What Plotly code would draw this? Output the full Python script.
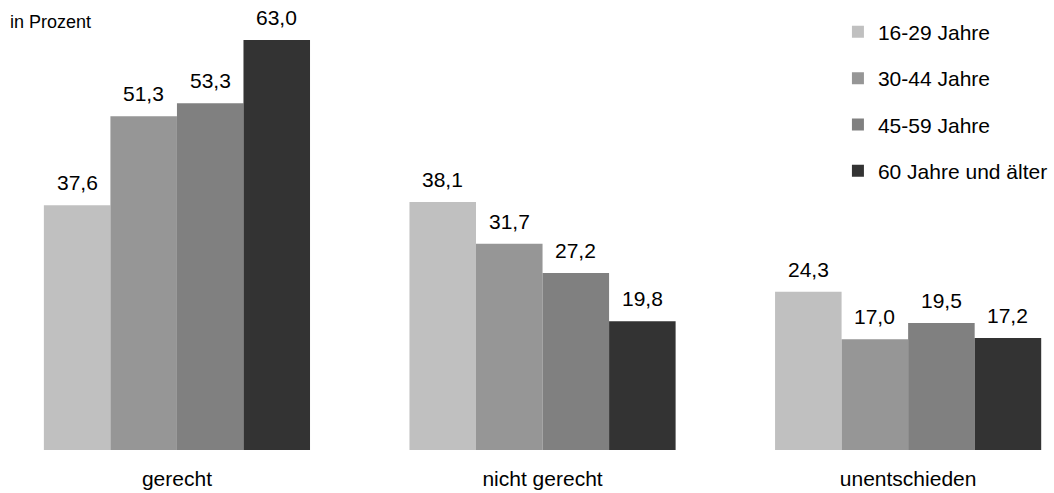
import plotly.graph_objects as go

categories = ["gerecht", "nicht gerecht", "unentschieden"]
series_names = ["16-29 Jahre", "30-44 Jahre", "45-59 Jahre", "60 Jahre und älter"]
v_16_29 = [37.6, 38.1, 24.3]
v_30_44 = [51.3, 31.7, 17.0]
v_45_59 = [53.3, 27.2, 19.5]
v_60 = [63.0, 19.8, 17.2]
colors = ["#C0C0C0", "#969696", "#808080", "#333333"]

W, H = 1054, 493
X_RANGE = [-0.484, 2.399]
BARGAP = 0.272
n_series = 4
bar_px = W / (X_RANGE[1] - X_RANGE[0]) * (1 - BARGAP) / n_series

fig = go.Figure()
annotations = []
all_vals = [v_16_29, v_30_44, v_45_59, v_60]
for i, (name, vals) in enumerate(zip(series_names, all_vals)):
    fig.add_trace(go.Bar(
        x=categories, y=vals, name=name, legendgroup=name,
        marker=dict(color=colors[i], line=dict(width=0)),
    ))
    for c, v in zip(categories, vals):
        annotations.append(dict(
            x=c, y=v, xref="x", yref="y",
            text=f"{v:.1f}".replace(".", ","),
            showarrow=False, xanchor="center", yanchor="bottom",
            xshift=(i - (n_series - 1) / 2) * bar_px, yshift=9,
            font=dict(size=21, color="#000000"),
        ))

annotations.append(dict(text="in Prozent", xref="paper", yref="paper", x=0.008, y=0.951,
                        xanchor="left", yanchor="middle", showarrow=False,
                        font=dict(size=18)))

fig.update_layout(
    width=W, height=H,
    margin=dict(l=0, r=0, t=0, b=43),
    paper_bgcolor="white", plot_bgcolor="white",
    barmode="group", bargap=BARGAP, bargroupgap=0,
    font=dict(family="Liberation Sans, Arial, sans-serif", size=21, color="#000000"),
    showlegend=True,
    legend=dict(x=0.795, y=0.974, xanchor="left", yanchor="top",
                traceorder="grouped", tracegroupgap=16,
                font=dict(size=21), bgcolor="rgba(0,0,0,0)",
                itemwidth=30),
    xaxis=dict(range=X_RANGE, showline=False, showgrid=False, ticks="",
               ticklabelstandoff=14, tickfont=dict(size=21)),
    yaxis=dict(range=[0, 69.15], visible=False, showgrid=False),
    annotations=annotations,
)

fig.write_html("out.html")
